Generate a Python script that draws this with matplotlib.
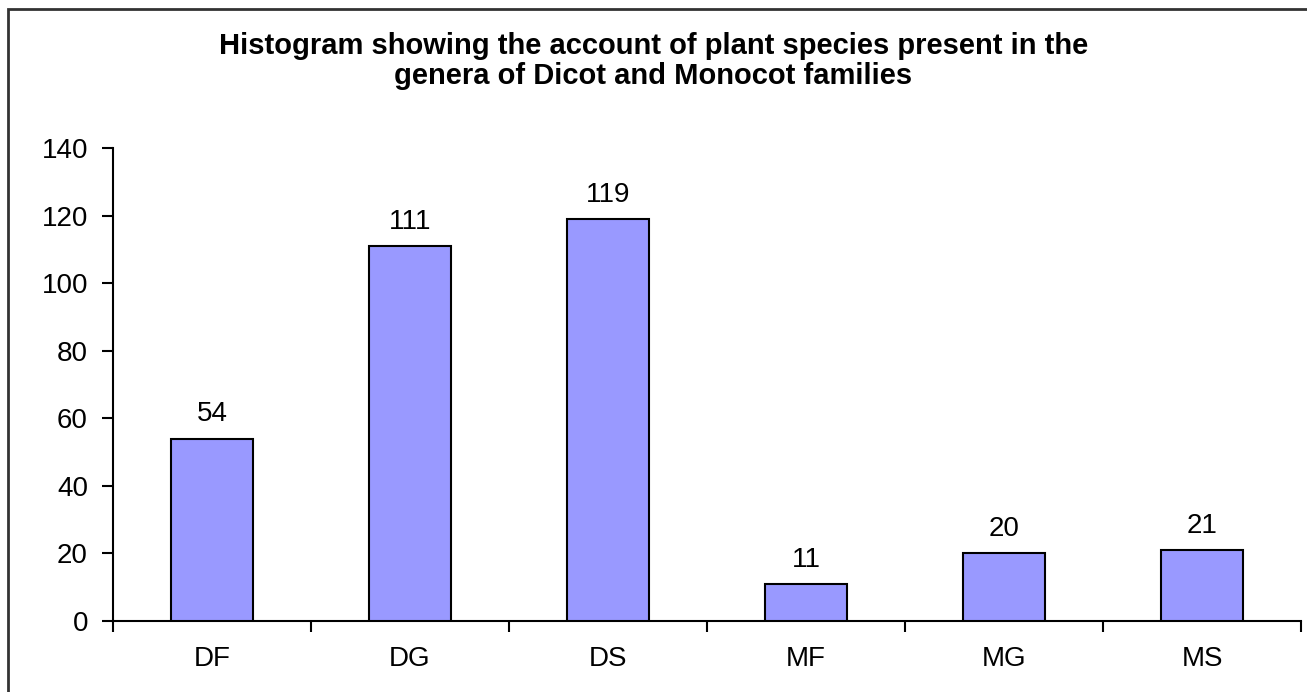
import matplotlib.pyplot as plt
from matplotlib.patches import Rectangle
import numpy as np

plt.rcParams['font.family'] = ['Liberation Sans', 'DejaVu Sans']

categories = ['DF', 'DG', 'DS', 'MF', 'MG', 'MS']
counts = [54, 111, 119, 11, 20, 21]
yticks = [0, 20, 40, 60, 80, 100, 120, 140]
title = ('Histogram showing the account of plant species present in the\n'
         'genera of Dicot and Monocot families')

fig = plt.figure(figsize=(13.07, 6.92), dpi=100)
ax = fig.add_axes([113 / 1307, 1 - 621 / 692, 1188 / 1307, 473 / 692])

x = np.arange(len(categories))
ax.bar(x, counts, width=0.41, color='#9999FF', edgecolor='black', linewidth=1.5, zorder=3)

for xi, v in zip(x, counts):
    ax.annotate(str(v), (xi, v), xytext=(0, 8), textcoords='offset points',
                ha='center', va='bottom', fontsize=20)

ax.set_xlim(-0.5, len(categories) - 0.5)
ax.set_ylim(0, 140)
ax.set_yticks(yticks)
ax.set_xticks(x)
ax.set_xticklabels(categories)
ax.set_xticks(np.arange(-0.5, len(categories)), minor=True)
ax.tick_params(axis='x', which='major', length=0, pad=18, labelsize=20)
ax.tick_params(axis='x', which='minor', length=8, width=1.5, direction='out')
ax.tick_params(axis='y', length=8, width=1.5, direction='out', labelsize=20, pad=10)

for side in ['top', 'right']:
    ax.spines[side].set_visible(False)
for side in ['left', 'bottom']:
    ax.spines[side].set_linewidth(1.5)

fig.text(0.5, 1 - 61 / 692, title, ha='center', va='center', fontsize=21,
         fontweight='bold', linespacing=1.1)

# outer chart border (right and bottom edges are cut off in the original)
fig.patches.append(Rectangle((8 / 1307, -0.1), 1.2, 1.1 - 9 / 692,
                             transform=fig.transFigure, fill=False,
                             edgecolor='#333333', linewidth=2))

fig.savefig('out.png', dpi=100)
